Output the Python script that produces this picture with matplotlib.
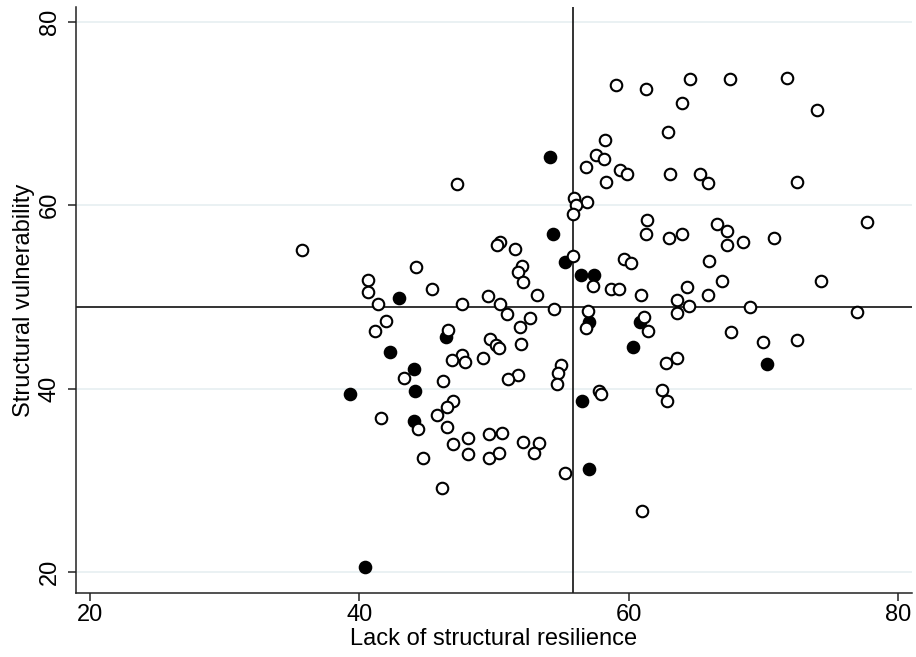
import matplotlib
matplotlib.use("Agg")
import matplotlib.pyplot as plt

plt.rcParams['font.family'] = ['Liberation Sans', 'DejaVu Sans']

# Countries without the attribute (hollow markers)
open_x = [35.75, 40.64, 40.64, 41.43, 44.22, 45.43, 47.65, 47.24, 41.96, 41.16,
          46.57, 47.65, 46.91, 47.85, 49.15, 43.33, 46.22, 46.93, 46.54, 45.75,
          41.63, 44.34, 46.54, 46.93, 48.04, 48.04, 44.74, 46.15, 59.04, 61.26,
          62.90, 58.22, 57.60, 58.15, 56.84, 59.36, 59.87, 63.06, 58.32, 55.95,
          56.93, 56.07, 55.85, 61.36, 61.24, 63.00, 50.44, 50.24, 51.56, 55.85,
          52.04, 51.75, 52.15, 57.35, 59.61, 60.15, 58.67, 59.26, 60.93, 49.56,
          53.16, 50.44, 54.45, 56.94, 56.84, 50.94, 52.64, 51.93, 49.73, 50.17,
          50.37, 52.02, 61.10, 61.45, 62.74, 54.96, 54.76, 54.64, 51.75, 51.06,
          57.80, 57.97, 62.48, 62.82, 49.65, 50.56, 49.65, 50.37, 52.17, 53.36,
          52.96, 55.26, 60.96, 64.56, 67.53, 71.74, 63.95, 73.95, 65.26, 65.88,
          72.44, 77.65, 66.57, 67.26, 67.26, 68.44, 70.76, 63.95, 65.95, 66.93,
          74.24, 64.34, 65.88, 63.56, 64.47, 68.96, 63.56, 76.96, 67.56, 69.98,
          72.47, 63.56]
open_y = [55.10, 51.85, 50.50, 49.24, 53.20, 50.84, 49.24, 62.33, 47.40, 46.29,
          46.40, 43.67, 43.09, 42.91, 43.33, 41.20, 40.84, 38.66, 37.93, 37.10,
          36.77, 35.63, 35.85, 33.92, 34.60, 32.84, 32.47, 29.13, 73.13, 72.69,
          68.00, 67.05, 65.49, 65.06, 64.15, 63.82, 63.35, 63.35, 62.47, 60.77,
          60.37, 59.96, 59.06, 58.37, 56.80, 56.36, 55.93, 55.60, 55.17, 54.50,
          53.38, 52.70, 51.64, 51.20, 54.07, 53.70, 50.80, 50.90, 50.22, 50.08,
          50.19, 49.20, 48.68, 48.45, 46.58, 48.11, 47.67, 46.70, 45.40, 44.76,
          44.40, 44.84, 47.82, 46.29, 42.75, 42.55, 41.64, 40.44, 41.46, 41.02,
          39.72, 39.39, 39.86, 38.64, 35.06, 35.13, 32.37, 32.95, 34.22, 34.04,
          33.02, 30.80, 26.69, 73.71, 73.71, 73.82, 71.13, 70.33, 63.35, 62.44,
          62.55, 58.18, 57.89, 57.16, 55.60, 56.00, 56.36, 56.87, 53.89, 51.71,
          51.71, 51.10, 50.19, 49.64, 49.05, 48.94, 48.18, 48.29, 46.18, 45.12,
          45.31, 43.31]

# Countries with the attribute (solid markers)
filled_x = [42.96, 46.42, 42.32, 44.05, 39.33, 44.12, 44.05, 54.15, 54.35, 55.24,
            56.44, 57.45, 57.05, 60.86, 60.32, 56.56, 57.06, 70.27, 40.45]
filled_y = [49.82, 45.67, 43.97, 42.18, 39.38, 39.75, 36.47, 65.24, 56.90, 53.82,
            52.37, 52.40, 47.25, 47.20, 44.58, 38.69, 31.24, 42.62, 20.50]

# Reference lines (sample means)
x_ref = 55.85
y_ref = 48.9

x_ticks = [20, 40, 60, 80]
y_ticks = [20, 40, 60, 80]
x_label = "Lack of structural resilience"
y_label = "Structural vulnerability"

fig = plt.figure(figsize=(9.16, 6.57), dpi=100)
ax = fig.add_axes([0.083, 0.0974, 0.9126, 0.8919])

ax.set_xlim(19.0, 81.0)
ax.set_ylim(17.7, 81.6)

for yt in y_ticks:
    ax.axhline(yt, color='#e8f0f2', linewidth=1.3, zorder=0)

ax.axvline(x_ref, color='#111111', linewidth=1.2, zorder=1)
ax.axhline(y_ref, color='#111111', linewidth=1.2, zorder=1)

ms, mew = 8.3, 1.5
ax.plot(filled_x, filled_y, linestyle='none', marker='o', markersize=ms,
        markerfacecolor='black', markeredgecolor='black', markeredgewidth=mew,
        zorder=3)
ax.plot(open_x, open_y, linestyle='none', marker='o', markersize=ms,
        markerfacecolor='white', markeredgecolor='black', markeredgewidth=mew,
        zorder=4)

for side in ('top', 'right'):
    ax.spines[side].set_visible(False)
for side in ('left', 'bottom'):
    ax.spines[side].set_linewidth(1.1)
    ax.spines[side].set_color('#222222')

ax.set_xticks(x_ticks)
ax.set_yticks(y_ticks)
ax.tick_params(axis='both', direction='out', length=6, width=1.1,
               color='#222222', labelsize=17, labelcolor='black')
ax.tick_params(axis='x', pad=2)
ax.tick_params(axis='y', pad=5)
for lbl in ax.get_yticklabels():
    lbl.set_rotation(90)
    lbl.set_va('center')

ax.set_xlabel(x_label, fontsize=17, labelpad=1)
ax.set_ylabel(y_label, fontsize=17, labelpad=3)

fig.savefig("out.png", dpi=100)
